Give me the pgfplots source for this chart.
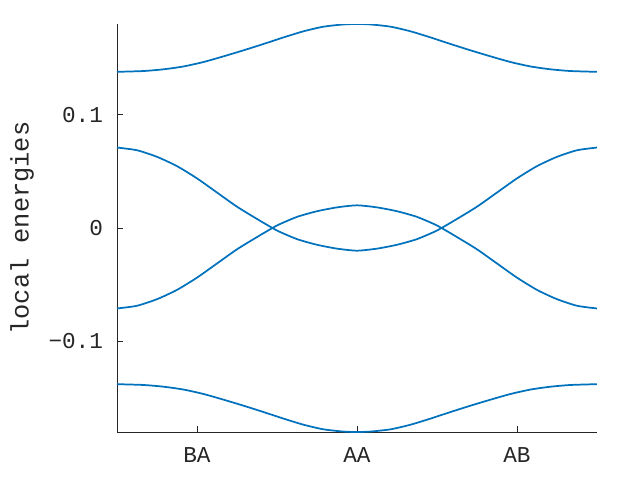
\documentclass[border=0pt]{standalone}
\usepackage{fontspec}
\setmainfont{Liberation Mono}
\usepackage{pgfplots}
\pgfplotsset{compat=1.18}
\definecolor{mblue}{HTML}{0072BD}
\definecolor{axgray}{HTML}{262626}
\begin{document}
\begin{tikzpicture}
\path[use as bounding box] (-87.75pt,-36pt) rectangle (392.25pt,324pt);
\begin{axis}[
  at={(0,0)}, anchor=south west,
  scale only axis, width=360pt, height=306pt,
  xmin=-0.5, xmax=2.5, ymin=-0.18, ymax=0.18,
  axis lines=left, axis line style={-, axgray, line width=0.6pt},
  tick style={axgray, line width=0.6pt}, tick align=inside,
  major tick length=4.5pt,
  xtick={0,1,2}, xticklabels={BA,AA,AB},
  ytick={-0.1,0,0.1}, yticklabels={−0.1,0,0.1},
  tick label style={font=\fontsize{17}{20}\selectfont, text=axgray},
  yticklabel style={xshift=-7pt},
  xticklabel style={yshift=-8pt},
  ylabel={local energies},
  ylabel style={at={(axis description cs:-0.198,0.5)}, anchor=center, font=\fontsize{19}{22}\selectfont, text=axgray},
]
\addplot[mblue, line width=1.3pt, smooth, tension=0.4] coordinates {(-0.5,0.1378)(-0.336,0.1385)(-0.211,0.1400)(-0.086,0.1425)(0.039,0.1464)(0.164,0.1514)(0.289,0.1567)(0.414,0.1623)(0.539,0.1681)(0.664,0.1735)(0.789,0.1776)(0.914,0.1796)(1.0,0.1800)
(1.086,0.1796)(1.211,0.1776)(1.336,0.1735)(1.461,0.1681)(1.586,0.1623)(1.711,0.1567)(1.836,0.1514)(1.961,0.1464)(2.086,0.1425)(2.211,0.1400)(2.336,0.1385)(2.5,0.1378)};
\addplot[mblue, line width=1.3pt, smooth, tension=0.4] coordinates {(-0.5,-0.1378)(-0.336,-0.1385)(-0.211,-0.1400)(-0.086,-0.1425)(0.039,-0.1464)(0.164,-0.1514)(0.289,-0.1567)(0.414,-0.1623)(0.539,-0.1681)(0.664,-0.1735)(0.789,-0.1776)(0.914,-0.1796)(1.0,-0.1800)
(1.086,-0.1796)(1.211,-0.1776)(1.336,-0.1735)(1.461,-0.1681)(1.586,-0.1623)(1.711,-0.1567)(1.836,-0.1514)(1.961,-0.1464)(2.086,-0.1425)(2.211,-0.1400)(2.336,-0.1385)(2.5,-0.1378)};
\addplot[mblue, line width=1.3pt, smooth, tension=0.4] coordinates {(-0.5,0.0710)(-0.375,0.0686)(-0.25,0.0628)(-0.125,0.0546)(0.0,0.0438)(0.125,0.0313)(0.25,0.0188)(0.375,0.0080)(0.5,-0.0022)(0.625,-0.0098)(0.75,-0.0148)(0.875,-0.0182)(1.0,-0.0200)
(1.125,-0.0182)(1.25,-0.0148)(1.375,-0.0098)(1.5,-0.0022)(1.625,0.0080)(1.75,0.0188)(1.875,0.0313)(2.0,0.0438)(2.125,0.0546)(2.25,0.0628)(2.375,0.0686)(2.5,0.0710)};
\addplot[mblue, line width=1.3pt, smooth, tension=0.4] coordinates {(-0.5,-0.0710)(-0.375,-0.0686)(-0.25,-0.0628)(-0.125,-0.0546)(0.0,-0.0438)(0.125,-0.0313)(0.25,-0.0188)(0.375,-0.0080)(0.5,0.0022)(0.625,0.0098)(0.75,0.0148)(0.875,0.0182)(1.0,0.0200)
(1.125,0.0182)(1.25,0.0148)(1.375,0.0098)(1.5,0.0022)(1.625,-0.0080)(1.75,-0.0188)(1.875,-0.0313)(2.0,-0.0438)(2.125,-0.0546)(2.25,-0.0628)(2.375,-0.0686)(2.5,-0.0710)};
\end{axis}
\end{tikzpicture}
\end{document}
